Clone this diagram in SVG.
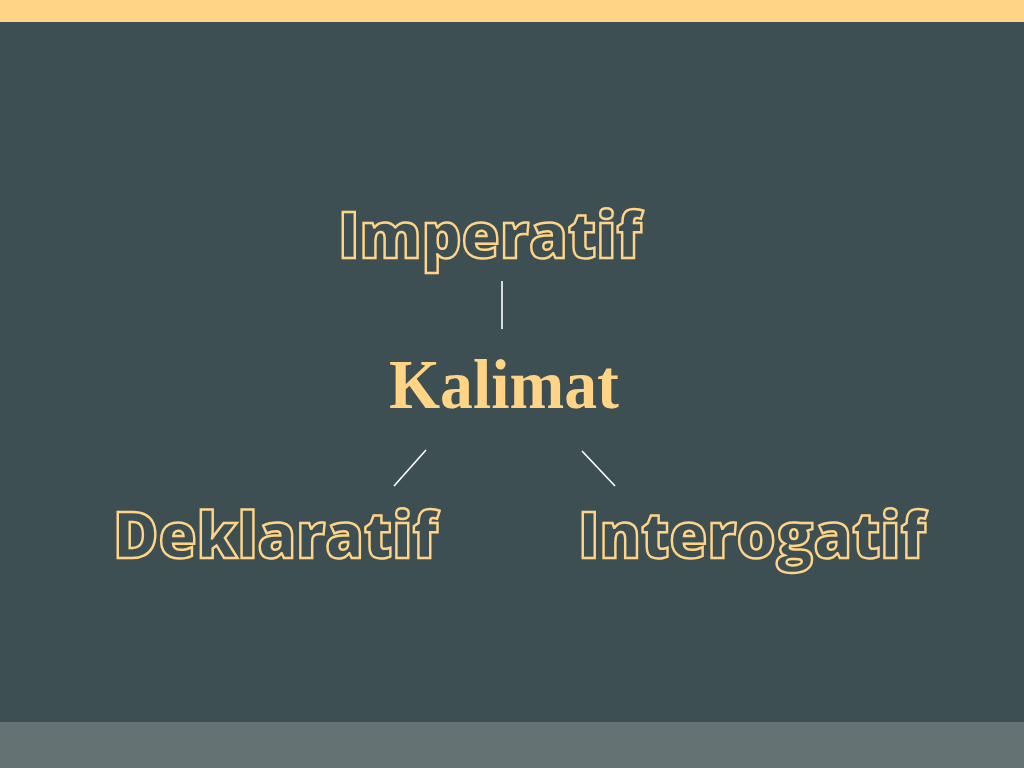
<svg xmlns="http://www.w3.org/2000/svg" width="1024" height="768" viewBox="0 0 1024 768">
<style>
.outline{font-family:"Open Sans","Lato",sans-serif;font-weight:800;font-size:64px;fill:#3e4f53;stroke:#ffd486;stroke-width:2.5;paint-order:normal}
.serif{font-family:"Liberation Serif","DejaVu Serif",serif;font-weight:bold;font-size:70px;fill:#ffd486}
.conn{stroke:#ffffff;stroke-width:1.6;fill:none}
</style>
<rect width="1024" height="768" fill="#3e4f53"/>
<rect width="1024" height="22" fill="#ffd486"/>
<rect y="722" width="1024" height="46" fill="#647273"/>
<g id="connectors">
<line class="conn" x1="502" y1="281" x2="502" y2="329"/>
<line class="conn" x1="426" y1="450" x2="394" y2="486"/>
<line class="conn" x1="582" y1="451" x2="615" y2="486"/>
</g>
<g id="node-imperatif"><text class="outline" x="338" y="258" textLength="304" lengthAdjust="spacingAndGlyphs">Imperatif</text></g>
<g id="node-kalimat"><text class="serif" x="389" y="408" textLength="230" lengthAdjust="spacingAndGlyphs">Kalimat</text></g>
<g id="node-deklaratif"><text class="outline" x="113" y="558" textLength="325" lengthAdjust="spacingAndGlyphs">Deklaratif</text></g>
<g id="node-interogatif"><text class="outline" x="578" y="558" textLength="348" lengthAdjust="spacingAndGlyphs">Interogatif</text></g>
</svg>
